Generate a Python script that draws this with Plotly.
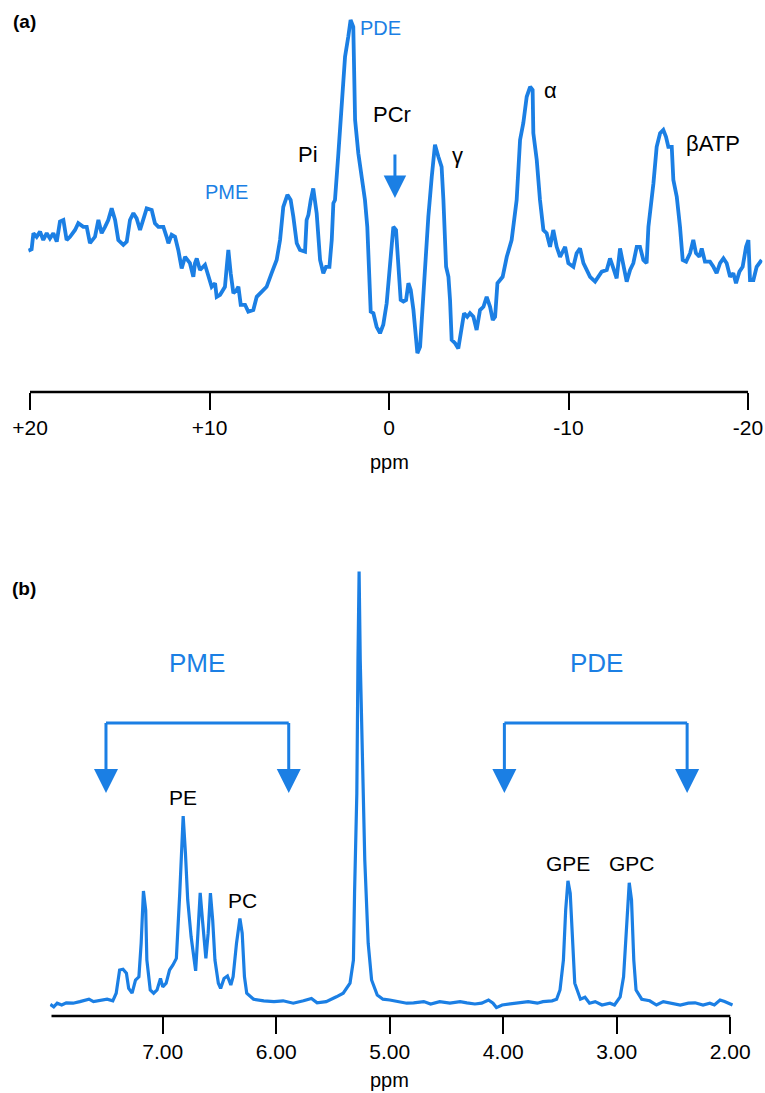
import plotly.graph_objects as go

# ---------------- data: panel (a) in-vivo 31P spectrum ----------------
ppm_a = [20.09, 19.91, 19.81, 19.63, 19.44, 19.26, 19.07, 18.89, 18.70, 18.51,
         18.33, 18.14, 17.96, 17.77, 17.49, 17.31, 17.03, 16.84, 16.66, 16.38,
         16.19, 16.01, 15.82, 15.64, 15.45, 15.26, 15.08, 14.80, 14.61, 14.43,
         14.24, 14.06, 13.87, 13.69, 13.50, 13.22, 13.04, 12.85, 12.57, 12.39,
         12.29, 12.11, 11.92, 11.74, 11.55, 11.36, 11.09, 10.90, 10.81, 10.71,
         10.53, 10.25, 10.06, 9.88, 9.69, 9.60, 9.41, 9.14, 9.04, 8.95,
         8.82, 8.67, 8.49, 8.39, 8.26, 8.02, 7.84, 7.56, 7.37, 7.19,
         7.00, 6.82, 6.54, 6.26, 6.07, 5.89, 5.66, 5.48, 5.33, 5.14,
         4.96, 4.68, 4.59, 4.49, 4.36, 4.22, 4.03, 3.84, 3.66, 3.51,
         3.32, 3.19, 3.10, 3.01, 2.82, 2.64, 2.45, 2.27, 2.14, 1.99,
         1.89, 1.71, 1.52, 1.34, 1.21, 1.10, 1.02, 0.87, 0.69, 0.50,
         0.32, 0.13,
         -0.06, -0.24, -0.39, -0.52, -0.65, -0.80, -0.95, -1.08, -1.21, -1.36,
         -1.50, -1.58, -1.73, -1.88, -2.01, -2.19, -2.38, -2.56, -2.75, -2.93,
         -3.03, -3.18, -3.31, -3.40, -3.49, -3.68, -3.86, -3.99, -4.18, -4.36,
         -4.51, -4.70, -4.88, -5.07, -5.26, -5.44, -5.63, -5.78, -5.91, -6.04,
         -6.33, -6.56, -6.83, -7.11, -7.30, -7.48, -7.67, -7.86, -8.00, -8.04,
         -8.23, -8.41, -8.60, -8.78, -8.97, -9.15, -9.34, -9.53, -9.81, -9.99,
         -10.27, -10.45, -10.64, -10.83, -11.01, -11.20, -11.48, -11.66, -11.85, -12.13,
         -12.31, -12.50, -12.68, -12.87, -13.05, -13.24, -13.43, -13.61, -13.80, -13.98,
         -14.17, -14.35, -14.45, -14.58, -14.73, -14.91, -15.10, -15.28, -15.43, -15.56,
         -15.75, -15.84, -16.03, -16.21, -16.36, -16.55, -16.77, -16.95, -17.10, -17.29,
         -17.42, -17.60, -17.88, -18.07, -18.25, -18.44, -18.63, -18.81, -19.00, -19.18,
         -19.33, -19.52, -19.70, -19.89, -20.02, -20.11, -20.30, -20.48, -20.76]

int_a = [35.3, 35.7, 39.7, 38.8, 40.1, 38.0, 39.7, 38.4, 39.7, 37.6,
         42.6, 43.0, 38.0, 38.8, 40.5, 42.2, 41.3, 41.3, 37.2, 38.8,
         43.0, 39.7, 41.3, 43.0, 45.9, 43.0, 38.0, 36.8, 37.6, 43.0,
         44.7, 43.4, 40.5, 43.0, 45.9, 45.5, 42.2, 41.3, 41.3, 38.8,
         37.2, 39.3, 38.8, 35.5, 30.9, 33.8, 32.2, 28.8, 32.2, 33.4,
         30.5, 31.8, 28.8, 26.3, 27.2, 23.8, 24.3, 26.3, 31.3, 35.5,
         29.7, 24.7, 25.5, 26.3, 21.8, 21.8, 20.1, 20.5, 23.8, 24.7,
         25.5, 26.3, 29.7, 33.0, 38.0, 46.3, 49.3, 48.0, 43.8, 37.2,
         35.5, 35.1, 43.0, 44.3, 48.0, 50.9, 44.7, 33.0, 29.7, 31.3,
         31.3, 38.0, 47.2, 48.0, 59.7, 73.0, 83.8, 88.8, 93.0, 91.3,
         68.0, 59.7, 53.8, 48.0, 41.3, 28.8, 20.1, 19.7, 16.3, 14.7,
         16.8, 22.2,
         31.3, 41.3, 40.5, 29.7, 23.0, 22.6, 23.0, 27.2, 25.5, 20.5,
         13.0, 9.7, 11.3, 23.0, 29.7, 43.8, 53.8, 61.8, 58.8, 56.3,
         48.0, 31.3, 28.8, 23.0, 13.0, 12.2, 10.9, 14.7, 19.7, 18.8,
         19.7, 18.8, 15.5, 20.5, 21.3, 23.8, 21.3, 18.0, 18.8, 27.2,
         28.8, 33.8, 38.0, 48.0, 63.0, 67.2, 73.8, 76.3, 75.5, 64.7,
         58.0, 48.0, 40.5, 39.7, 36.3, 40.5, 36.3, 33.8, 36.3, 32.2,
         31.3, 34.7, 35.9, 32.2, 30.5, 28.8, 27.6, 28.8, 30.1, 30.5,
         33.4, 30.9, 28.4, 35.9, 32.2, 27.6, 30.5, 32.2, 36.3, 36.3,
         33.0, 32.2, 41.3, 46.3, 52.2, 61.3, 64.7, 65.5, 63.8, 61.3,
         61.3, 53.0, 48.8, 41.3, 33.0, 32.6, 34.7, 38.0, 34.7, 33.8,
         35.9, 32.6, 32.6, 31.3, 29.7, 32.2, 33.4, 32.2, 28.8, 29.7,
         27.2, 30.1, 31.3, 36.3, 38.0, 28.0, 28.0, 31.3, 33.0]

# ---------------- data: panel (b) high-resolution extract spectrum ----------------
ppm_b = [7.99, 7.96, 7.93, 7.89, 7.85, 7.79, 7.73, 7.65, 7.61, 7.55,
         7.49, 7.44, 7.41, 7.38, 7.35, 7.32, 7.30, 7.27, 7.24, 7.21,
         7.19, 7.17, 7.15, 7.14, 7.11, 7.08, 7.05, 7.02, 7.00, 6.97,
         6.94, 6.91, 6.88, 6.85, 6.82, 6.80, 6.78, 6.75, 6.72, 6.71,
         6.69, 6.67, 6.65, 6.62, 6.60, 6.58, 6.56, 6.54, 6.51, 6.49,
         6.46, 6.43, 6.40, 6.38, 6.35, 6.32, 6.30, 6.28, 6.26, 6.20,
         6.11, 6.02, 5.94, 5.85, 5.76, 5.69, 5.64, 5.56, 5.47, 5.41,
         5.35, 5.32, 5.31, 5.29, 5.28, 5.27, 5.26, 5.24, 5.22, 5.19,
         5.16, 5.11, 5.06, 5.00, 4.94, 4.85, 4.79, 4.70, 4.64, 4.56,
         4.47, 4.38, 4.32, 4.25, 4.19, 4.13, 4.09, 4.06, 4.01, 3.94,
         3.85, 3.78, 3.70, 3.65, 3.57, 3.53, 3.50, 3.47, 3.45, 3.43,
         3.41, 3.39, 3.37, 3.32, 3.28, 3.24, 3.19, 3.13, 3.06, 3.02,
         2.97, 2.94, 2.91, 2.89, 2.87, 2.85, 2.83, 2.78, 2.71, 2.65,
         2.59, 2.52, 2.44, 2.37, 2.31, 2.24, 2.18, 2.14, 2.09, 2.05,
         2.02, 1.98]

int_b = [2.9, 2.3, 3.2, 2.75, 3.3, 3.2, 3.6, 4.2, 3.6, 3.8,
         4.2, 3.8, 5.7, 11.5, 11.7, 10.7, 6.9, 5.7, 9.0, 9.8,
         18.2, 31.25, 26.5, 14.0, 6.5, 5.7, 6.5, 9.4, 7.3, 8.2,
         11.5, 12.75, 14.4, 30.7, 50.0, 40.7, 29.0, 19.8, 12.75, 11.3,
         20.7, 30.8, 24.0, 14.4, 20.7, 30.7, 24.0, 14.0, 8.2, 6.9,
         9.4, 10.0, 7.75, 9.8, 18.2, 24.4, 20.7, 9.8, 5.7, 4.2,
         3.8, 3.6, 3.8, 3.2, 3.8, 4.4, 3.3, 3.6, 4.8, 5.7,
         8.2, 14.0, 30.7, 55.7, 89.0, 111.1, 89.0, 62.3, 39.0, 18.2,
         9.0, 5.25, 4.2, 4.0, 3.6, 3.2, 3.3, 3.6, 3.0, 3.6,
         3.2, 3.6, 3.3, 3.0, 3.2, 4.0, 3.2, 2.1, 2.75, 3.0,
         3.3, 3.6, 3.2, 3.6, 3.8, 4.2, 6.5, 14.0, 26.5, 33.8,
         30.7, 18.2, 8.2, 4.2, 4.7, 3.2, 3.6, 2.75, 3.2, 2.75,
         4.8, 9.8, 22.3, 33.3, 29.0, 14.0, 6.5, 4.2, 3.8, 2.75,
         3.6, 3.2, 2.75, 3.2, 3.3, 2.75, 3.2, 2.75, 4.0, 3.6,
         3.2, 2.75]

# ---------------- axes / ticks ----------------
ticks_a = [20, 10, 0, -10, -20]
ticklabels_a = ["+20", "+10", "0", "-10", "-20"]
ticks_b = [7, 6, 5, 4, 3, 2]
ticklabels_b = ["7.00", "6.00", "5.00", "4.00", "3.00", "2.00"]
axis_span_a = [20, -20]
axis_span_b = [7.98, 2.00]

# ---------------- peak labels ----------------
labels_a_text = ["PDE", "PCr", "Pi", "PME", "γ", "α", "βATP"]
labels_a_ppm = [0.45, -0.15, 4.51, 9.03, -3.84, -8.97, -18.07]
labels_a_int = [91.0, 69.4, 59.4, 49.9, 59.0, 75.3, 62.0]
labels_a_blue = [True, False, False, True, False, False, False]

labels_b_text = ["PE", "PC", "GPE", "GPC"]
labels_b_ppm = [6.82, 6.30, 3.43, 2.87]
labels_b_int = [54.75, 29.0, 38.2, 38.2]

groups_b_text = ["PME", "PDE"]
groups_b_center = [6.70, 3.18]
groups_b_ends = [[7.50, 5.89], [3.99, 2.38]]
group_bar_level = 73.25
group_tip_level = 55.75
group_label_level = 88.25

pcr_arrow_ppm = -0.33
pcr_arrow_tail = 59.75
pcr_arrow_head = 48.5

BLUE = "#1b7fe4"
FONT = "Liberation Sans, Arial, sans-serif"
W, H = 765, 1093

fig = go.Figure()
fig.add_trace(go.Scatter(x=ppm_a, y=int_a, mode="lines", xaxis="x", yaxis="y",
                         line=dict(color=BLUE, width=3.8), hoverinfo="skip"))
fig.add_trace(go.Scatter(x=ppm_b, y=int_b, mode="lines", xaxis="x2", yaxis="y2",
                         line=dict(color=BLUE, width=3.2), hoverinfo="skip"))

ann = []
for t, xv, yv, b in zip(labels_a_text, labels_a_ppm, labels_a_int, labels_a_blue):
    ann.append(dict(x=xv, y=yv, xref="x", yref="y", text=t, showarrow=False,
                    xanchor="center", yanchor="middle",
                    font=dict(family=FONT, size=20 if b else 22,
                              color=BLUE if b else "black")))
ann.append(dict(x=pcr_arrow_ppm, y=pcr_arrow_head, xref="x", yref="y",
                ax=pcr_arrow_ppm, ay=pcr_arrow_tail, axref="x", ayref="y",
                text="", showarrow=True, arrowhead=2, arrowsize=1.5, arrowwidth=3,
                arrowcolor=BLUE, standoff=0, startstandoff=0))

for t, xv, yv in zip(labels_b_text, labels_b_ppm, labels_b_int):
    ann.append(dict(x=xv, y=yv, xref="x2", yref="y2", text=t, showarrow=False,
                    xanchor="center", yanchor="middle",
                    font=dict(family=FONT, size=21, color="black")))
shapes = []
for t, c, ends in zip(groups_b_text, groups_b_center, groups_b_ends):
    ann.append(dict(x=c, y=group_label_level, xref="x2", yref="y2", text=t,
                    showarrow=False, xanchor="center", yanchor="middle",
                    font=dict(family=FONT, size=26, color=BLUE)))
    shapes.append(dict(type="line", xref="x2", yref="y2", x0=ends[0], x1=ends[1],
                       y0=group_bar_level, y1=group_bar_level,
                       line=dict(color=BLUE, width=3)))
    for e in ends:
        ann.append(dict(x=e, y=group_tip_level, xref="x2", yref="y2",
                        ax=e, ay=group_bar_level + 0.35, axref="x2", ayref="y2",
                        text="", showarrow=True, arrowhead=2, arrowsize=1.6,
                        arrowwidth=3, arrowcolor=BLUE, standoff=0, startstandoff=0))

# axis baselines
shapes.append(dict(type="line", xref="x", yref="y domain", x0=axis_span_a[0], x1=axis_span_a[1],
                   y0=0, y1=0, line=dict(color="black", width=2.5)))
shapes.append(dict(type="line", xref="x2", yref="y2 domain", x0=axis_span_b[0], x1=axis_span_b[1],
                   y0=0, y1=0, line=dict(color="black", width=2.5)))

# panel letters and axis titles
ann.append(dict(x=24 / W, y=1 - 22 / H, xref="paper", yref="paper", text="<b>(a)</b>",
                showarrow=False, xanchor="center", yanchor="middle",
                font=dict(family=FONT, size=19, color="black")))
ann.append(dict(x=24 / W, y=1 - 588 / H, xref="paper", yref="paper", text="<b>(b)</b>",
                showarrow=False, xanchor="center", yanchor="middle",
                font=dict(family=FONT, size=19, color="black")))
ann.append(dict(x=0, y=1 - 462 / H, xref="x", yref="paper", text="ppm",
                showarrow=False, xanchor="center", yanchor="middle",
                font=dict(family=FONT, size=20, color="black")))
ann.append(dict(x=5.0, y=1 - 1080 / H, xref="x2", yref="paper", text="ppm",
                showarrow=False, xanchor="center", yanchor="middle",
                font=dict(family=FONT, size=20, color="black")))

axis_common = dict(showgrid=False, zeroline=False, showline=False, ticks="outside",
                   tickcolor="black", tickwidth=2.3, automargin=False, ticklen=17,
                   tickfont=dict(family=FONT, size=21, color="black"))

fig.update_layout(
    width=W, height=H, margin=dict(l=0, r=0, t=0, b=0, autoexpand=False),
    paper_bgcolor="white", plot_bgcolor="white", showlegend=False,
    xaxis=dict(domain=[28.2 / W, 762.4 / W], range=[20.1, -20.8], anchor="y",
               tickmode="array", tickvals=ticks_a, ticktext=ticklabels_a,
               **axis_common),
    yaxis=dict(domain=[(H - 392) / H, (H - 10) / H], range=[0, 95.5], anchor="x",
               visible=False),
    xaxis2=dict(domain=[49.8 / W, 733.1 / W], range=[7.995, 1.975], anchor="y2",
                tickmode="array", tickvals=ticks_b, ticktext=ticklabels_b,
                **axis_common),
    yaxis2=dict(domain=[(H - 1016) / H, (H - 570) / H], range=[0, 111.5], anchor="x2",
                visible=False),
    annotations=ann, shapes=shapes,
)

fig.write_html("out.html", config={"displayModeBar": False},
               post_script="document.body.style.margin='0px';document.body.style.overflow='hidden';")
